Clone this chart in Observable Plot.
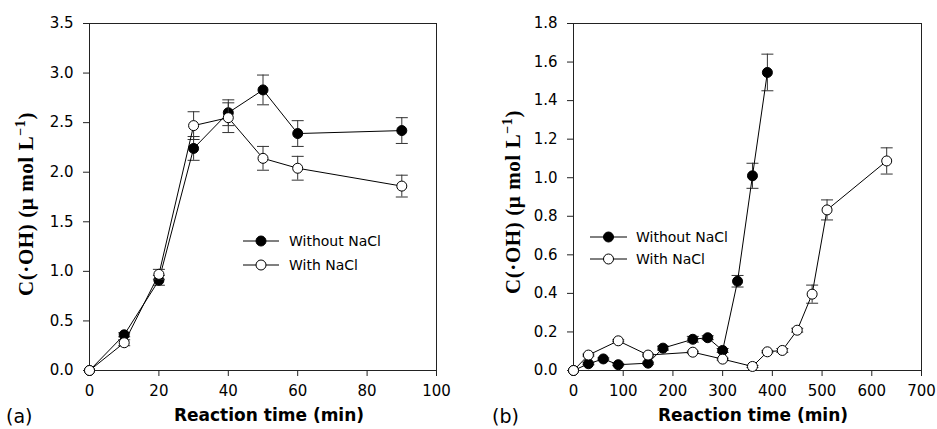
<!DOCTYPE html>
<html><head><meta charset="utf-8">
<script src="https://cdn.jsdelivr.net/npm/d3@7"></script>
<script src="https://cdn.jsdelivr.net/npm/@observablehq/plot@0.6"></script>
<style>
html,body{margin:0;padding:0;background:#fff;}
#wrap{position:relative;width:937px;height:429px;overflow:hidden;background:#fff;}
#wrap > svg{position:absolute;top:0;}
</style></head><body><div id="wrap"></div>
<script>
// ---- Panel (a) data ----
const timeA = [0, 10, 20, 30, 40, 50, 60, 90];
const withoutA = [0, 0.36, 0.91, 2.24, 2.60, 2.83, 2.39, 2.42];
const withoutAErr = [0, 0.02, 0.05, 0.12, 0.13, 0.15, 0.13, 0.13];
const withA = [0, 0.28, 0.97, 2.47, 2.55, 2.14, 2.04, 1.86];
const withAErr = [0, 0.03, 0.05, 0.14, 0.15, 0.12, 0.12, 0.11];
const xTicksA = [0, 20, 40, 60, 80, 100];
const yTicksA = [0, 0.5, 1.0, 1.5, 2.0, 2.5, 3.0, 3.5];

// ---- Panel (b) data ----
const timeBWithout = [0, 30, 60, 90, 150, 180, 240, 270, 300, 330, 360, 390];
const withoutB = [0, 0.035, 0.06, 0.03, 0.038, 0.116, 0.162, 0.17, 0.104, 0.463, 1.01, 1.546];
const withoutBErr = [0, 0.005, 0.005, 0.005, 0.005, 0.01, 0.015, 0.01, 0.01, 0.03, 0.065, 0.095];
const timeBWith = [0, 30, 90, 150, 240, 300, 360, 390, 420, 450, 480, 510, 630];
const withB = [0, 0.08, 0.154, 0.08, 0.095, 0.059, 0.021, 0.097, 0.104, 0.209, 0.396, 0.833, 1.087];
const withBErr = [0, 0.005, 0.005, 0.005, 0.005, 0.005, 0.005, 0.005, 0.01, 0.01, 0.047, 0.052, 0.068];
const xTicksB = [0, 100, 200, 300, 400, 500, 600, 700];
const yTicksB = [0, 0.2, 0.4, 0.6, 0.8, 1.0, 1.2, 1.4, 1.6, 1.8];

const seriesNames = ["Without NaCl", "With NaCl"];
const xTitle = "Reaction time (min)";

const rows = (t, v, e) => t.map((x, i) => ({t: x, v: v[i], e: e[i]}));

const cap = {draw(ctx) { ctx.moveTo(-6, 0); ctx.lineTo(6, 0); }};

function panel({width, ml, mr, xDomain, yDomain, xTicks, yTicks, series}) {
  const marks = [];
  for (const s of series) {
    const err = s.data.filter(d => d.e > 0);
    marks.push(Plot.ruleX(err, {x: "t", y1: d => d.v - d.e, y2: d => d.v + d.e, stroke: "#333", strokeWidth: 1}));
    marks.push(Plot.dot(err, {x: "t", y: d => d.v + d.e, symbol: cap, stroke: "#333", strokeWidth: 1, fill: "none"}));
    marks.push(Plot.dot(err, {x: "t", y: d => d.v - d.e, symbol: cap, stroke: "#333", strokeWidth: 1, fill: "none"}));
    marks.push(Plot.line(s.data, {x: "t", y: "v", stroke: "#000", strokeWidth: 1}));
    marks.push(Plot.dot(s.data, {x: "t", y: "v", r: 5, fill: s.fill, stroke: "#000", strokeWidth: 1}));
  }
  return Plot.plot({
    width, height: 429,
    marginLeft: ml, marginRight: mr, marginTop: 23, marginBottom: 59,
    style: {fontFamily: "DejaVu Sans", fontSize: "15px", color: "#000", background: "transparent"},
    x: {domain: xDomain, nice: false},
    y: {domain: yDomain, nice: false},
    marks: [
      Plot.frame({stroke: "#222", strokeWidth: 1}),
      Plot.axisX({ticks: xTicks, tickSize: 6, tickPadding: 9, label: null, tickFormat: d3.format("d"), stroke: "#222"}),
      Plot.axisY({ticks: yTicks, tickSize: 6, tickPadding: 10, label: null, tickFormat: d3.format(".1f"), stroke: "#222"}),
      ...marks
    ]
  });
}

const wrap = document.getElementById("wrap");

const pa = panel({
  width: 470, ml: 89, mr: 34, xDomain: [0, 100], yDomain: [0, 3.5], xTicks: xTicksA, yTicks: yTicksA,
  series: [
    {data: rows(timeA, withoutA, withoutAErr), fill: "#000"},
    {data: rows(timeA, withA, withAErr), fill: "#fff"}
  ]
});
pa.style.left = "0px";
wrap.appendChild(pa);

const pb = panel({
  width: 467, ml: 103, mr: 16, xDomain: [0, 700], yDomain: [0, 1.8], xTicks: xTicksB, yTicks: yTicksB,
  series: [
    {data: rows(timeBWithout, withoutB, withoutBErr), fill: "#000"},
    {data: rows(timeBWith, withB, withBErr), fill: "#fff"}
  ]
});
pb.style.left = "470px";
wrap.appendChild(pb);

// ---- overlay: titles, panel tags, legends ----
const ov = d3.select(wrap).append("svg")
  .attr("width", 937).attr("height", 429)
  .style("left", "0px").style("pointer-events", "none");

function yTitle(x, y) {
  const t = ov.append("text")
    .attr("transform", `translate(${x},${y}) rotate(-90)`)
    .attr("text-anchor", "middle")
    .attr("font-family", "Liberation Serif")
    .attr("font-weight", "bold")
    .attr("font-size", 21)
    .attr("letter-spacing", "0.6px")
    .attr("fill", "#000");
  t.append("tspan").text("C(\u00B7OH) (\u03BC mol L");
  t.append("tspan").attr("font-size", 14).attr("dy", "-8").text("\u22121");
  t.append("tspan").attr("dy", "8").text(")");
}
yTitle(33, 204);
yTitle(520, 202);

function xTitleAt(x) {
  ov.append("text").attr("x", x).attr("y", 421)
    .attr("text-anchor", "middle")
    .attr("font-family", "DejaVu Sans").attr("font-weight", "bold").attr("font-size", 17)
    .attr("fill", "#000").text(xTitle);
}
xTitleAt(269);
xTitleAt(753);

function tag(x, s) {
  ov.append("text").attr("x", x).attr("y", 423)
    .attr("font-family", "DejaVu Sans").attr("font-size", 19).attr("fill", "#000").text(s);
}
tag(6, "(a)");
tag(492, "(b)");

function legend(x0, x1, y0, y1, tx) {
  [[y0, "#000", seriesNames[0]], [y1, "#fff", seriesNames[1]]].forEach(([y, f, name]) => {
    ov.append("line").attr("x1", x0).attr("x2", x1).attr("y1", y).attr("y2", y).attr("stroke", "#000");
    ov.append("circle").attr("cx", (x0 + x1) / 2).attr("cy", y).attr("r", 5).attr("fill", f).attr("stroke", "#000");
    ov.append("text").attr("x", tx).attr("y", y + 5)
      .attr("font-family", "DejaVu Sans").attr("font-size", 14).attr("fill", "#000").text(name);
  });
}
legend(243, 279, 241, 265, 289);
legend(590, 627, 237, 259, 636);
</script></body></html>
